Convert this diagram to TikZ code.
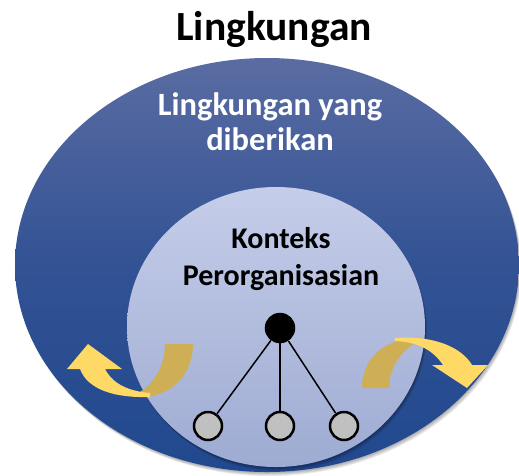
\documentclass[tikz,border=0pt]{standalone}
\usepackage{fontspec}
\setmainfont{Carlito}
\definecolor{outerTop}{RGB}{90,108,162}
\definecolor{outerMid}{RGB}{50,82,148}
\definecolor{outerBot}{RGB}{33,72,142}
\definecolor{innerTop}{RGB}{197,205,233}
\definecolor{innerBot}{RGB}{158,171,210}
\definecolor{goldLight}{RGB}{255,217,102}
\definecolor{goldDark}{RGB}{206,175,86}
\definecolor{nodeGray}{RGB}{192,192,192}
\tikzset{
  shadowlayer/.style={fill=black,fill opacity=0.07},
  rootnode/.style={circle,fill=black,draw=black,line width=2.5pt,minimum size=28pt,inner sep=0pt},
  leafnode/.style={circle,fill=nodeGray,draw=black,line width=2.5pt,minimum size=28pt,inner sep=0pt},
  treeedge/.style={draw=black,line width=1.5pt},
  bigtitle/.style={font=\fontsize{41.5}{48}\selectfont\bfseries,text=black,inner sep=0pt},
  outertext/.style={font=\fontsize{32.5}{35}\selectfont\bfseries,text=white,align=center,inner sep=0pt},
  innertext/.style={font=\fontsize{30}{37}\selectfont\bfseries,text=black,align=center,inner sep=0pt},
}
\begin{document}
\begin{tikzpicture}[x=1pt,y=-1pt]
\useasboundingbox (0,0) rectangle (519,475);
% outer ellipse with soft shadow
\foreach \d in {1,2,3,4,5}{
  \fill[shadowlayer] (267+0.5*\d,265+0.8*\d) ellipse [x radius=252, y radius=207];
}
\path[top color=outerTop,bottom color=outerBot,middle color=outerMid]
  (267,265) ellipse [x radius=252, y radius=207];
% inner ellipse with soft shadow
\foreach \d in {1,2,3,4,5}{
  \fill[shadowlayer] (276+0.4*\d,327+0.8*\d) ellipse [x radius=149, y radius=140];
}
\path[top color=innerTop,bottom color=innerBot]
  (276,327) ellipse [x radius=149, y radius=140];
% left arrow: back part
\fill[goldDark] (165,344) -- (193,344) .. controls (193,374) and (172,397) .. (140,397)
  -- (132,396) .. controls (152,388) and (165,368) .. (165,344) -- cycle;
% left arrow: front part
\fill[goldLight] (80,369) -- (67,369) -- (88,344) -- (122,369) -- (105,369)
  .. controls (113,384) and (128,391) .. (150,393) -- (150,397)
  .. controls (115,398) and (88,390) .. (80,369) -- cycle;
% right arrow: back part
\fill[goldDark] (362,388) .. controls (362,358) and (385,338) .. (418,338)
  -- (425,339) .. controls (405,345) and (389,365) .. (389,388) -- cycle;
% right arrow: front part
\fill[goldLight] (395,338) .. controls (435,335) and (462,348) .. (472,365)
  -- (488,365) -- (467,388) -- (432,365) -- (443,365)
  .. controls (433,350) and (418,342) .. (395,341) -- cycle;
% texts
\node[bigtitle,anchor=base] (title) at (274,40) {Lingkungan};
\node[outertext,anchor=base] (given) at (270,150) {Lingkungan yang\\diberikan};
\node[innertext,anchor=base] (context) at (281,285) {Konteks\\Perorganisasian};
% tree
\node[rootnode] (root) at (280,328) {};
\node[leafnode] (leafA) at (208,426) {};
\node[leafnode] (leafB) at (280,426) {};
\node[leafnode] (leafC) at (344,426) {};
\draw[treeedge] (root) -- (leafA);
\draw[treeedge] (root) -- (leafB);
\draw[treeedge] (root) -- (leafC);
\end{tikzpicture}
\end{document}
